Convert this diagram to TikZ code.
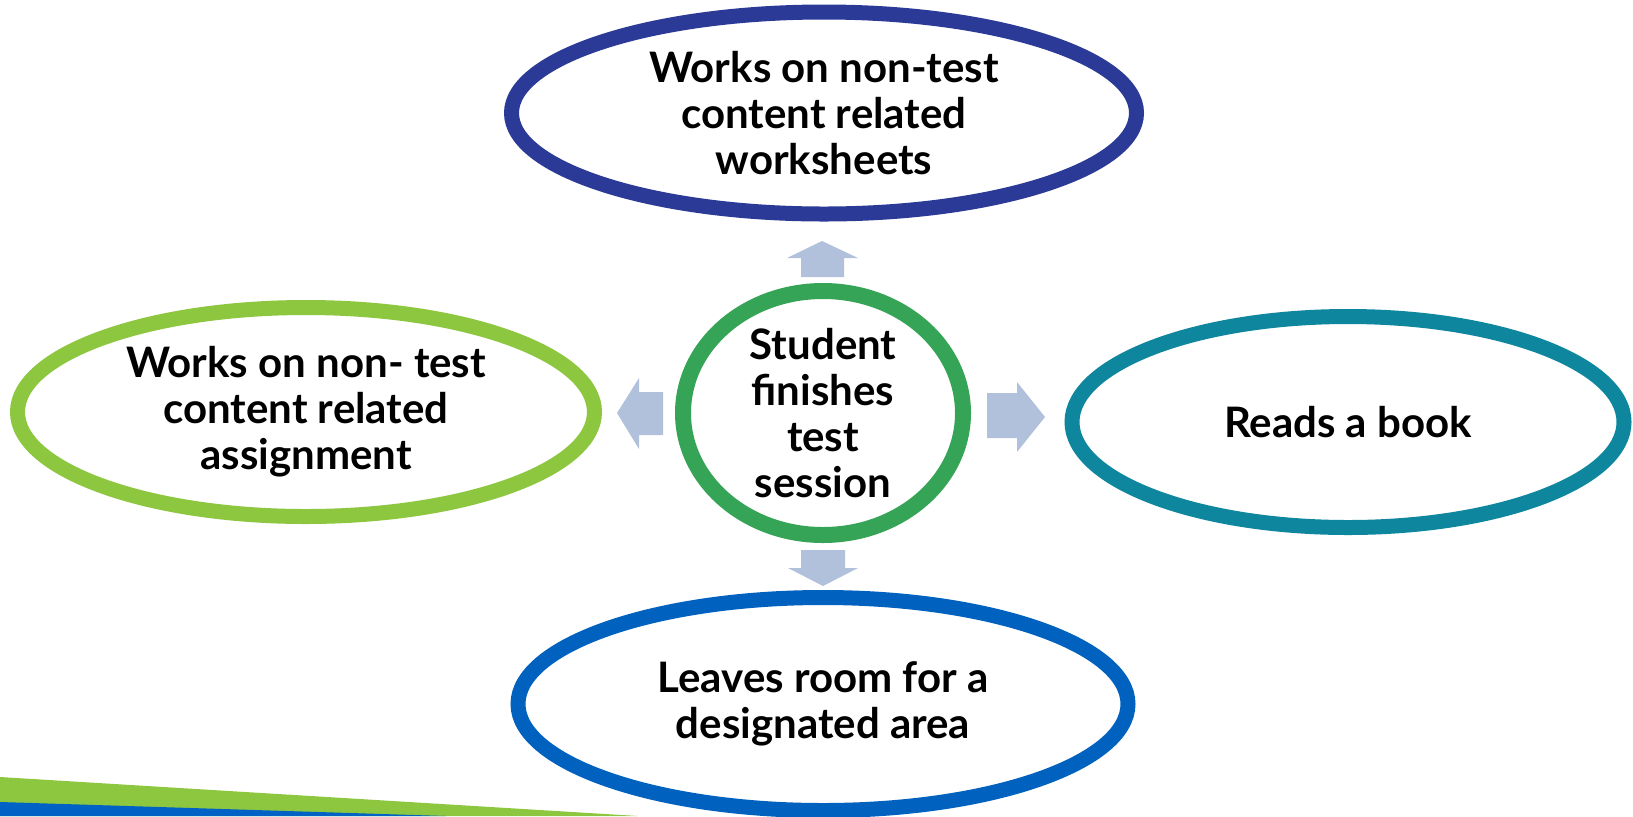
\documentclass[tikz,border=0pt]{standalone}
\usepackage{fontspec}
\setmainfont{Lato}
\usetikzlibrary{shapes.geometric}
\definecolor{cTopBlue}{HTML}{2B3A96}
\definecolor{cGreen}{HTML}{36A456}
\definecolor{cLime}{HTML}{8DC63F}
\definecolor{cTeal}{HTML}{0E869E}
\definecolor{cBotBlue}{HTML}{0061BF}
\definecolor{cArrow}{HTML}{B1C1DC}
\definecolor{cStripeBlue}{HTML}{0062C4}
\begin{document}
\begin{tikzpicture}[x=0.5pt,y=-0.5pt,
  bubble/.style={ellipse, draw, fill=white, inner sep=-10pt, align=center,
    font=\bfseries\fontsize{21}{23}\selectfont},
  blockarrow/.style={fill=cArrow}]
\useasboundingbox (0,0) rectangle (1633,816);
% bottom stripes
\fill[cLime] (0,777) -- (638,816) -- (0,816) -- cycle;
\fill[cStripeBlue] (0,802) -- (446,816) -- (0,816) -- cycle;
% nodes
\node[bubble, draw=cTopBlue, line width=7.5pt, minimum width=312.5pt, minimum height=101pt] (top) at (824,113) {Works on non-test\\content related\\worksheets};
\node[bubble, draw=cGreen, line width=8pt, minimum width=140pt, minimum height=122pt] (center) at (823,413) {Student\\finishes\\test\\session};
\node[bubble, draw=cLime, line width=7.5pt, minimum width=288.5pt, minimum height=104.5pt] (left) at (306,412) {Works on non- test\\content related\\assignment};
\node[bubble, draw=cTeal, line width=7.5pt, minimum width=276pt, minimum height=105.5pt] (right) at (1348,422) {Reads a book};
\node[bubble, draw=cBotBlue, line width=7.5pt, minimum width=305pt, minimum height=106.5pt] (bottom) at (823,704) {Leaves room for a\\designated area};
% block arrows
\fill[blockarrow] (801,277) -- (801,258) -- (787,258) -- (822,241) -- (858,258) -- (844,258) -- (844,277) -- cycle;
\fill[blockarrow] (801,550) -- (845,550) -- (845,568) -- (858,568) -- (823,586) -- (788,568) -- (801,568) -- cycle;
\fill[blockarrow] (663,392) -- (639,392) -- (639,378) -- (617,413) -- (639,449) -- (639,435) -- (663,435) -- cycle;
\fill[blockarrow] (987,393) -- (1017,393) -- (1017,382) -- (1045,417) -- (1017,452) -- (1017,438) -- (987,438) -- cycle;
\end{tikzpicture}
\end{document}
